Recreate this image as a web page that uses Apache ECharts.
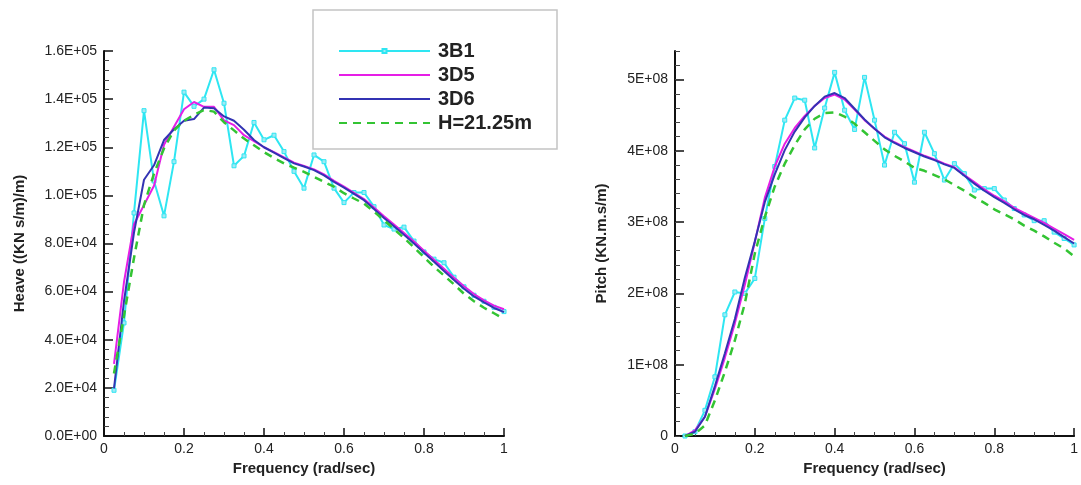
<!DOCTYPE html>
<html>
<head>
<meta charset="utf-8">
<script src="https://cdn.jsdelivr.net/npm/echarts@6/dist/echarts.min.js"></script>
<style>
  html, body { margin: 0; padding: 0; background: #fff; }
  #chart { width: 1081px; height: 485px; }
</style>
</head>
<body>
<div id="chart"></div>
<script>
// frequency (rad/sec), shared by both panels
var freq = [0.025, 0.05, 0.075, 0.1, 0.125, 0.15, 0.175, 0.2, 0.225, 0.25,
    0.275, 0.3, 0.325, 0.35, 0.375, 0.4, 0.425, 0.45, 0.475, 0.5,
    0.525, 0.55, 0.575, 0.6, 0.625, 0.65, 0.675, 0.7, 0.725, 0.75,
    0.775, 0.8, 0.825, 0.85, 0.875, 0.9, 0.925, 0.95, 0.975, 1.0];

var seriesNames = ['3B1', '3D5', '3D6', 'H=21.25m'];

// Heave ((KN s/m)/m)
var heave3B1 = [19000, 47000, 92700, 135200, 106000, 91500, 114000, 142900, 137000, 140000,
    152200, 138300, 112300, 116400, 130300, 123100, 125000, 118200, 110000, 103000,
    116800, 114000, 103000, 97000, 101200, 101200, 95300, 87700, 86000, 86800,
    81000, 76500, 73500, 72000, 66000, 62000, 58500, 56000, 53500, 51700];
var heave3D5 = [30000, 64000, 88000, 96000, 104000, 121000, 128500, 135800, 138800, 136800,
    136800, 131200, 129200, 125000, 122500, 120000, 118000, 115800, 113600, 112200,
    110800, 108700, 106000, 103600, 101000, 98500, 95000, 91300, 87900, 84400,
    80800, 77000, 73200, 69500, 65800, 62200, 59000, 56400, 54200, 52700];
var heave3D6 = [19800, 56000, 84500, 106500, 112500, 123000, 127500, 131000, 131700, 136500,
    136200, 132800, 131000, 127300, 123000, 120000, 117800, 115500, 113300, 112000,
    110500, 108300, 105600, 103200, 100600, 98000, 94300, 90600, 87200, 83600,
    80000, 76200, 72400, 68600, 64800, 61200, 58000, 55500, 53200, 51500];
var heaveH = [26000, 50000, 74000, 96000, 109000, 119500, 127000, 131000, 133500, 135500,
    134800, 130400, 127000, 123600, 120800, 118000, 115500, 113300, 111500, 109800,
    107700, 105600, 103600, 100900, 98700, 96600, 93200, 89700, 86000, 82300,
    78400, 74300, 70300, 66700, 63000, 59100, 56000, 53300, 51000, 48700];

// Pitch (KN.m.s/m), in units of 1E+08
var pitch3B1 = [0.0, 0.06, 0.36, 0.83, 1.70, 2.02, 2.00, 2.21, 3.05, 3.78,
    4.43, 4.74, 4.71, 4.04, 4.60, 5.10, 4.57, 4.30, 5.03, 4.43,
    3.80, 4.26, 4.10, 3.56, 4.26, 3.96, 3.59, 3.82, 3.68, 3.45,
    3.47, 3.47, 3.31, 3.19, 3.10, 3.02, 3.02, 2.86, 2.77, 2.68];
var pitch3D5 = [0.0, 0.08, 0.27, 0.66, 1.10, 1.58, 2.12, 2.72, 3.34, 3.78,
    4.10, 4.32, 4.49, 4.63, 4.74, 4.79, 4.72, 4.58, 4.43, 4.31,
    4.20, 4.12, 4.05, 3.99, 3.93, 3.88, 3.82, 3.77, 3.66, 3.56,
    3.46, 3.37, 3.29, 3.20, 3.13, 3.06, 2.99, 2.91, 2.83, 2.75];
var pitch3D6 = [0.0, 0.06, 0.27, 0.70, 1.16, 1.64, 2.22, 2.73, 3.28, 3.67,
    4.01, 4.27, 4.47, 4.63, 4.76, 4.81, 4.74, 4.59, 4.44, 4.31,
    4.19, 4.11, 4.04, 3.98, 3.92, 3.87, 3.81, 3.76, 3.65, 3.54,
    3.44, 3.35, 3.27, 3.18, 3.10, 3.04, 2.96, 2.88, 2.79, 2.70];
var pitchH = [0.0, 0.03, 0.15, 0.50, 0.90, 1.34, 1.86, 2.56, 3.07, 3.50,
    3.82, 4.08, 4.30, 4.45, 4.53, 4.54, 4.48, 4.38, 4.26, 4.14,
    4.02, 3.93, 3.85, 3.76, 3.72, 3.66, 3.60, 3.52, 3.44, 3.35,
    3.27, 3.18, 3.11, 3.04, 2.95, 2.88, 2.80, 2.71, 2.63, 2.52];

var pitchTicks = [0, 1, 2, 3, 4, 5];

var lineColors = ['#2ee6f2', '#e61ee6', '#3333b3', '#33c433'];
var textCol = '#222';
var fontName = '"Liberation Sans", Arial, sans-serif';

function pairs(ys) {
    var out = [];
    for (var i = 0; i < freq.length; i++) {
        out.push([freq[i], ys[i]]);
    }
    return out;
}

function sciLabel(v) {
    if (v === 0) return '0.0E+00';
    var e = Math.floor(Math.log10(v) + 1e-9);
    var m = v / Math.pow(10, e);
    return m.toFixed(1) + 'E+' + (e < 10 ? '0' + e : e);
}

function makeSeries(name, idx, data, axisIdx) {
    var s = {
        name: name,
        type: 'line',
        xAxisIndex: axisIdx,
        yAxisIndex: axisIdx === 0 ? 0 : 1,
        data: pairs(data),
        symbol: 'none',
        smooth: false,
        color: lineColors[idx],
        lineStyle: { width: 2, color: lineColors[idx] },
        z: 2 + idx
    };
    if (idx === 0) {
        s.symbol = 'rect';
        s.symbolSize = 4;
        s.itemStyle = { color: '#9feaf5', borderColor: lineColors[0], borderWidth: 1 };
    }
    if (idx === 3) {
        s.lineStyle = { width: 2.5, color: lineColors[3], type: [8, 6] };
    }
    return s;
}

var xAxisBase = function (grid) {
    return {
        type: 'value',
        gridIndex: grid,
        min: 0,
        max: 1,
        interval: 0.2,
        name: 'Frequency (rad/sec)',
        nameLocation: 'middle',
        nameGap: 24,
        nameTextStyle: { fontFamily: fontName, fontSize: 15, fontWeight: 'bold', color: textCol },
        axisLine: { show: true, onZero: false, lineStyle: { color: '#111', width: 2 } },
        axisTick: { show: true, inside: true, length: 8, lineStyle: { color: '#111', width: 1.5 } },
        minorTick: { show: true, splitNumber: 4, length: 4, lineStyle: { color: '#444', width: 1 } },
        axisLabel: { fontFamily: fontName, fontSize: 14, color: textCol, margin: 6 },
        splitLine: { show: false }
    };
};

// legend entries: only 3B1 keeps its marker
var legendData = seriesNames.map(function (n, i) {
    return i === 0 ? { name: n } : { name: n, itemStyle: { opacity: 0 } };
});

var option = {
    animation: false,
    backgroundColor: '#fff',
    graphic: [{
        type: 'rect',
        shape: { x: 313, y: 10, width: 244, height: 139 },
        style: { fill: '#fff', stroke: '#c4c4c4', lineWidth: 1.5 },
        z: 0
    }],
    legend: {
        data: legendData,
        orient: 'vertical',
        left: 333,
        top: 36,
        itemWidth: 91,
        itemHeight: 5,
        itemGap: 4,
        textStyle: {
            fontFamily: fontName, fontSize: 20, fontWeight: 'bold', color: textCol,
            lineHeight: 20, padding: [0, 0, 0, 3]
        }
    },
    grid: [
        { left: 104, top: 51, width: 400, height: 385 },
        { left: 675, top: 51, width: 400, height: 385 }
    ],
    xAxis: [xAxisBase(0), xAxisBase(1)],
    yAxis: [
        {
            type: 'value',
            gridIndex: 0,
            position: 'left',
            min: 0,
            max: 160000,
            interval: 20000,
            name: 'Heave ((KN s/m)/m)',
            nameLocation: 'middle',
            nameRotate: 90,
            nameGap: 77,
            nameTextStyle: { fontFamily: fontName, fontSize: 15, fontWeight: 'bold', color: textCol },
            axisLine: { show: true, onZero: false, lineStyle: { color: '#111', width: 2 } },
            axisTick: { show: true, inside: true, length: 9, lineStyle: { color: '#111', width: 1.5 } },
            minorTick: { show: true, splitNumber: 5, length: 5, lineStyle: { color: '#444', width: 1 } },
            axisLabel: { fontFamily: fontName, fontSize: 14, color: textCol, margin: 7, formatter: sciLabel },
            splitLine: { show: false }
        },
        {
            type: 'value',
            gridIndex: 1,
            position: 'left',
            min: 0,
            max: 5.4,
            interval: 1,
            name: 'Pitch (KN.m.s/m)',
            nameLocation: 'middle',
            nameRotate: 90,
            nameGap: 66,
            nameTextStyle: { fontFamily: fontName, fontSize: 15, fontWeight: 'bold', color: textCol },
            axisLine: { show: true, onZero: false, lineStyle: { color: '#111', width: 2 } },
            axisTick: { show: true, inside: true, length: 9, customValues: pitchTicks, lineStyle: { color: '#111', width: 1.5 } },
            axisLabel: {
                fontFamily: fontName, fontSize: 14, color: textCol, margin: 7,
                customValues: pitchTicks,
                formatter: function (v) { return v === 0 ? '0' : v + 'E+08'; }
            },
            splitLine: { show: false }
        },
        {
            // minor ticks of the pitch axis
            type: 'value',
            gridIndex: 1,
            position: 'left',
            min: 0,
            max: 5.4,
            interval: 0.2,
            axisLine: { show: false },
            axisTick: { show: true, inside: true, length: 5, lineStyle: { color: '#444', width: 1 } },
            axisLabel: { show: false },
            splitLine: { show: false }
        }
    ],
    series: [
        makeSeries('3B1', 0, heave3B1, 0),
        makeSeries('3D5', 1, heave3D5, 0),
        makeSeries('3D6', 2, heave3D6, 0),
        makeSeries('H=21.25m', 3, heaveH, 0),
        makeSeries('3B1', 0, pitch3B1, 1),
        makeSeries('3D5', 1, pitch3D5, 1),
        makeSeries('3D6', 2, pitch3D6, 1),
        makeSeries('H=21.25m', 3, pitchH, 1)
    ]
};

var myChart = echarts.init(document.getElementById('chart'), null, { renderer: 'canvas' });
myChart.setOption(option);
</script>
</body>
</html>
